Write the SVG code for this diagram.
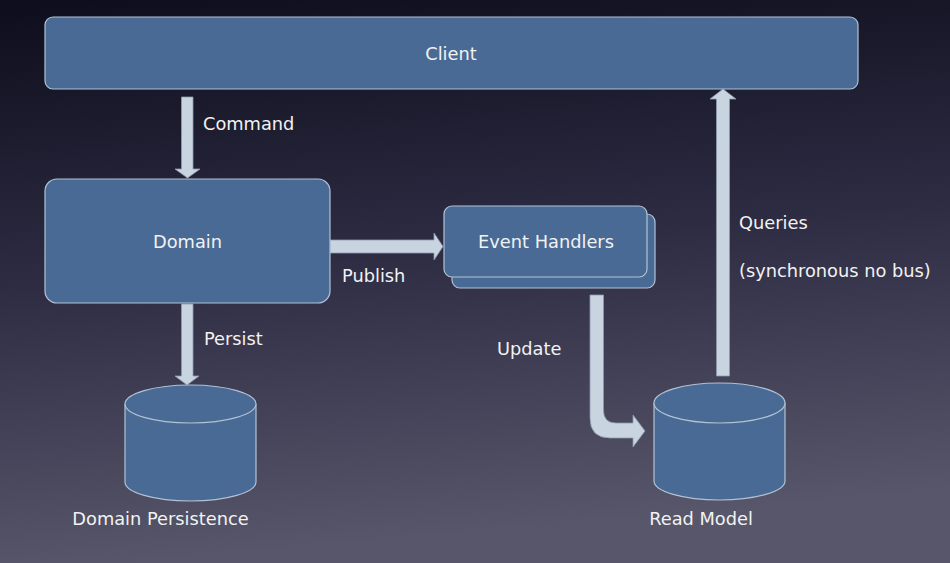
<svg xmlns="http://www.w3.org/2000/svg" width="950" height="563" viewBox="0 0 950 563">
<defs>
<linearGradient id="bg" x1="0" y1="0" x2="0.15" y2="1">
<stop offset="0" stop-color="#0d0d1c"/>
<stop offset="0.5" stop-color="#2d2c43"/>
<stop offset="1" stop-color="#57566a"/>
</linearGradient>
<style>
.box{fill:#486a95;stroke:#b4c2d4;stroke-width:1.2}
.arr{fill:#c9d4e1;stroke:#8e9aab;stroke-width:0.8}
.t{font-family:"DejaVu Sans",Verdana,sans-serif;font-size:17.8px;fill:#f2f2f2}
.c{text-anchor:middle}
</style>
</defs>
<rect width="950" height="563" fill="url(#bg)"/>
<g id="connectors">
<path id="command" class="arr" d="M181.5,97 H193 V169 H200 L187.5,178 L175,169 H181.5 Z"/>
<path id="publish" class="arr" d="M330,240 H434 V233 L443,246.5 L434,260 V253 H330 Z"/>
<path id="persist" class="arr" d="M181.5,304 H193 V376 H199 L187,385 L175,376 H181.5 Z"/>
<path id="update" class="arr" d="M590,295 H603.5 V410 Q603.5,423 616,423 H633 V415 L645,431 L633,447 V438 H610 Q590,438 590,418 Z"/>
<path id="queries" class="arr" d="M716.5,376 V99 H710 L723,89 L736,99 H729.5 V376 Z"/>
</g>
<g id="client">
<rect class="box" x="45" y="17" width="813" height="72" rx="8"/>
<text class="t c" x="451" y="60">Client</text>
</g>
<g id="domain">
<rect class="box" x="45" y="179" width="285" height="124" rx="12"/>
<text class="t c" x="187.5" y="248">Domain</text>
</g>
<g id="event-handlers">
<rect class="box" x="452" y="214" width="203" height="74" rx="8"/>
<rect class="box" x="444" y="206" width="203" height="71" rx="8"/>
<text class="t c" x="546" y="248">Event Handlers</text>
</g>
<g id="domain-persistence">
<path class="box" d="M125,404 V482 A65.5,19 0 0 0 256,482 V404"/>
<ellipse class="box" cx="190.5" cy="404" rx="65.5" ry="19"/>
<text class="t c" x="160.5" y="525">Domain Persistence</text>
</g>
<g id="read-model">
<path class="box" d="M654,403 V481 A65.5,19 0 0 0 785,481 V403"/>
<ellipse class="box" cx="719.5" cy="403" rx="65.5" ry="20"/>
<text class="t c" x="701" y="525">Read Model</text>
</g>
<g id="labels">
<text class="t" x="203" y="130">Command</text>
<text class="t" x="342" y="282">Publish</text>
<text class="t" x="204" y="345">Persist</text>
<text class="t" x="497" y="355">Update</text>
<text class="t" x="739" y="229">Queries</text>
<text class="t" x="739" y="277">(synchronous no bus)</text>
</g>
</svg>
